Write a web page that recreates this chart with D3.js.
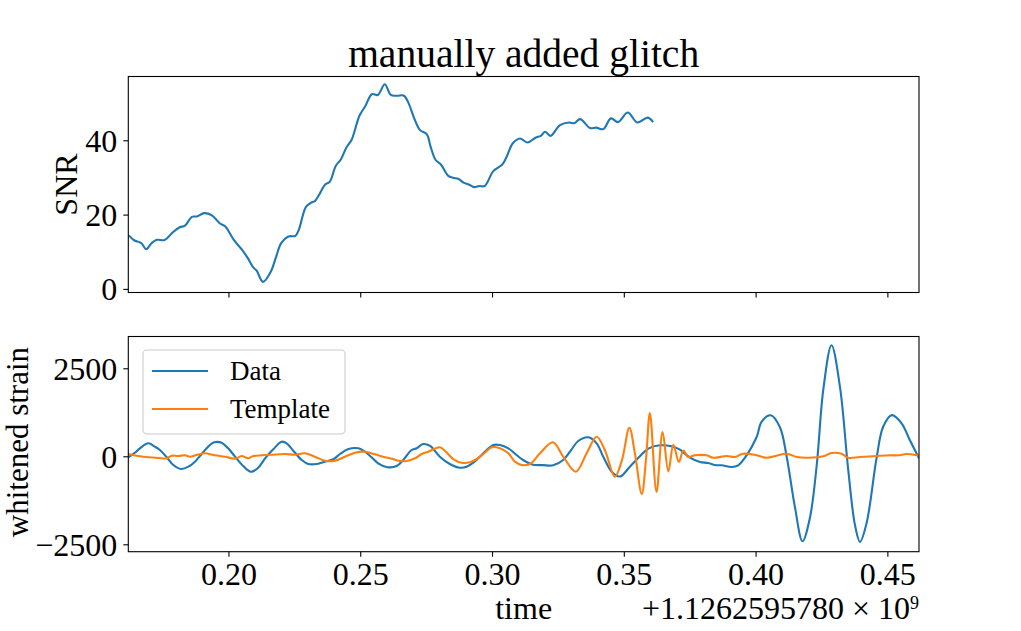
<!DOCTYPE html>
<html>
<head>
<meta charset="utf-8">
<script src="https://cdn.jsdelivr.net/npm/d3@7"></script>
<style>
  html, body { margin: 0; padding: 0; background: #fff; }
  svg { display: block; }
  text { font-family: "Liberation Serif", "DejaVu Serif", serif; fill: #000; }
</style>
</head>
<body>
<svg id="chart" width="1021" height="631"></svg>
<script>
// ---------- data ----------
const title = "manually added glitch";
const timeOffsetLabel = "+1.1262595780 \u00d7 10";
const timeOffsetExp = "9";
const xTicks = [0.20, 0.25, 0.30, 0.35, 0.40, 0.45];
const snrTicks = [0, 20, 40];
const strainTicks = [-2500, 0, 2500];
const seriesNames = ["Data", "Template"];

const snrTime = [0.1622,0.1642,0.1662,0.1671,0.1688,0.1708,0.1728,0.1755,0.1768,0.1788,0.1815,0.1835,0.1861,0.1881,0.1908,0.1937,0.1968,0.1988,0.2021,0.2054,0.2074,0.2094,0.2107,0.2131,0.2161,0.2181,0.2200,0.2227,0.2254,0.2267,0.2294,0.2314,0.2327,0.2347,0.2367,0.2384,0.2407,0.2427,0.2447,0.2467,0.2477,0.2497,0.2520,0.2544,0.2567,0.2593,0.2616,0.2640,0.2666,0.2682,0.2706,0.2726,0.2753,0.2766,0.2786,0.2806,0.2833,0.2853,0.2873,0.2892,0.2912,0.2933,0.2952,0.2972,0.3005,0.3039,0.3052,0.3079,0.3106,0.3135,0.3165,0.3185,0.3201,0.3222,0.3258,0.3292,0.3312,0.3334,0.3372,0.3395,0.3422,0.3451,0.3478,0.3515,0.3551,0.3591,0.3611];
const snrValue = [14.4,13.1,12.6,12.2,10.7,12.3,13.2,13.1,13.7,15.2,16.6,17.0,19.4,19.5,20.4,19.8,17.6,16.8,13.1,10.3,8.2,5.8,4.9,1.9,4.7,8.7,12.3,14.1,14.3,15.9,22.1,23.2,23.6,25.7,28.1,28.8,33.1,34.9,38.0,40.1,42.1,46.6,49.3,52.4,52.2,55.1,52.2,52.0,52.0,50.2,45.7,42.8,41.6,38.5,34.7,33.5,30.5,29.9,29.6,28.6,28.1,27.4,27.7,27.7,31.7,33.5,35.0,39.2,40.5,39.4,40.7,41.2,42.3,41.2,44.1,44.8,44.6,45.7,43.3,43.4,43.0,45.9,44.9,47.5,44.8,46.1,44.9];

const dataTime = [0.1620,0.1645,0.1664,0.1696,0.1721,0.1740,0.1766,0.1791,0.1820,0.1848,0.1873,0.1898,0.1923,0.1946,0.1974,0.1999,0.2025,0.2056,0.2085,0.2111,0.2139,0.2170,0.2202,0.2221,0.2246,0.2278,0.2303,0.2335,0.2366,0.2398,0.2423,0.2455,0.2493,0.2518,0.2543,0.2568,0.2603,0.2638,0.2663,0.2695,0.2714,0.2739,0.2765,0.2802,0.2840,0.2878,0.2904,0.2929,0.2967,0.3005,0.3030,0.3062,0.3093,0.3118,0.3156,0.3194,0.3232,0.3270,0.3302,0.3327,0.3365,0.3397,0.3422,0.3454,0.3485,0.3523,0.3561,0.3593,0.3637,0.3681,0.3713,0.3751,0.3789,0.3820,0.3846,0.3871,0.3909,0.3934,0.3966,0.4004,0.4023,0.4057,0.4092,0.4118,0.4149,0.4178,0.4206,0.4232,0.4257,0.4288,0.4320,0.4351,0.4377,0.4396,0.4421,0.4459,0.4484,0.4517,0.4554,0.4585,0.4620];
const dataValue = [-28,100,227,369,273,179,-28,-247,-361,-295,-153,65,273,398,386,227,-11,-276,-437,-341,-57,199,415,369,159,-105,-219,-219,-153,-85,65,207,227,131,-28,-199,-310,-276,-105,179,227,349,293,-11,-219,-324,-295,-182,85,321,321,227,37,-105,-239,-250,-256,-105,199,435,540,369,-11,-437,-575,-295,0,220,312,284,188,-40,-162,-190,-247,-256,-304,-256,28,548,983,1165,832,-11,-1432,-2415,-1750,-250,1900,3155,1980,-350,-1950,-2430,-1900,-50,840,1170,938,463,-57];

const templateTime = [0.1620,0.1658,0.1696,0.1734,0.1766,0.1785,0.1810,0.1835,0.1854,0.1879,0.1910,0.1949,0.1987,0.2025,0.2050,0.2075,0.2094,0.2126,0.2164,0.2214,0.2252,0.2290,0.2328,0.2366,0.2404,0.2442,0.2480,0.2518,0.2556,0.2594,0.2620,0.2644,0.2676,0.2708,0.2733,0.2758,0.2802,0.2821,0.2853,0.2885,0.2916,0.2942,0.2973,0.2999,0.3030,0.3062,0.3087,0.3114,0.3144,0.3182,0.3231,0.3270,0.3318,0.3359,0.3397,0.3428,0.3466,0.3493,0.3521,0.3542,0.3568,0.3584,0.3599,0.3624,0.3647,0.3669,0.3688,0.3709,0.3726,0.3744,0.3770,0.3814,0.3839,0.3890,0.3922,0.3953,0.4004,0.4042,0.4080,0.4118,0.4156,0.4200,0.4257,0.4288,0.4326,0.4351,0.4396,0.4459,0.4510,0.4541,0.4573,0.4611,0.4620];
const templateValue = [65,9,-28,-48,-57,17,9,28,-11,37,85,28,-11,-68,9,-57,9,28,45,65,45,85,-11,-125,-125,-11,102,131,57,-28,-70,-125,-134,-57,65,131,256,159,-77,-182,-170,-77,102,256,227,85,-153,-250,-220,85,398,-11,-437,85,557,179,-580,-105,813,85,-1071,-105,1230,-1014,690,-430,325,-160,165,-20,28,28,-40,9,-20,74,28,-40,17,74,-20,-40,0,94,74,-40,-20,9,28,28,65,28,9];

// ---------- layout ----------
const C_BLUE = "#1f77b4", C_ORANGE = "#ff7f0e";
const left = 128.3, right = 919;
const top1 = 76.5, bot1 = 292.5;
const top2 = 336.5, bot2 = 551.7;
const FS = 32;

const svg = d3.select("#chart");

const x = d3.scaleLinear().domain([0.162, 0.462]).range([left, right]);
const ySnr = d3.scaleLinear().domain([-0.97, 57.17]).range([bot1, top1]);
const yStr = d3.scaleLinear().domain([-2710, 3403]).range([bot2, top2]);

const curve = d3.curveCatmullRom.alpha(0.5);

function clipFor(id, y0, y1) {
  svg.append("clipPath").attr("id", id).append("rect")
    .attr("x", left).attr("y", y0).attr("width", right - left).attr("height", y1 - y0);
}
clipFor("c1", top1, bot1);
clipFor("c2", top2, bot2);

// ---------- top panel ----------
const snrLine = d3.line().x(d => x(d[0])).y(d => ySnr(d[1])).curve(curve);
svg.append("path")
  .datum(d3.zip(snrTime, snrValue))
  .attr("clip-path", "url(#c1)")
  .attr("fill", "none").attr("stroke", C_BLUE).attr("stroke-width", 2.1)
  .attr("stroke-linejoin", "round")
  .attr("d", snrLine);

const ax1x = svg.append("g").attr("transform", `translate(0,${bot1})`)
  .call(d3.axisBottom(x).tickValues(xTicks).tickSize(5).tickFormat(""));
const ax1y = svg.append("g").attr("transform", `translate(${left},0)`)
  .call(d3.axisLeft(ySnr).tickValues(snrTicks).tickSize(5).tickPadding(6).tickFormat(d3.format("d")));

svg.append("rect").attr("x", left).attr("y", top1).attr("width", right - left).attr("height", bot1 - top1)
  .attr("fill", "none").attr("stroke", "#000").attr("stroke-width", 1.1);

// ---------- bottom panel ----------
const strainLine = d3.line().x(d => x(d[0])).y(d => yStr(d[1])).curve(curve);
svg.append("path")
  .datum(d3.zip(dataTime, dataValue))
  .attr("clip-path", "url(#c2)")
  .attr("fill", "none").attr("stroke", C_BLUE).attr("stroke-width", 2.1)
  .attr("stroke-linejoin", "round")
  .attr("d", strainLine);
svg.append("path")
  .datum(d3.zip(templateTime, templateValue))
  .attr("clip-path", "url(#c2)")
  .attr("fill", "none").attr("stroke", C_ORANGE).attr("stroke-width", 2.1)
  .attr("stroke-linejoin", "round")
  .attr("d", strainLine);

const ax2x = svg.append("g").attr("transform", `translate(0,${bot2})`)
  .call(d3.axisBottom(x).tickValues(xTicks).tickSize(5).tickPadding(4).tickFormat(d3.format(".2f")));
const ax2y = svg.append("g").attr("transform", `translate(${left},0)`)
  .call(d3.axisLeft(yStr).tickValues(strainTicks).tickSize(5).tickPadding(6)
    .tickFormat(d => (d < 0 ? "\u2212" : "") + Math.abs(d)));

svg.append("rect").attr("x", left).attr("y", top2).attr("width", right - left).attr("height", bot2 - top2)
  .attr("fill", "none").attr("stroke", "#000").attr("stroke-width", 1.1);

// axis styling
[ax1x, ax1y, ax2x, ax2y].forEach(g => {
  g.select(".domain").remove();
  g.selectAll(".tick line").attr("stroke", "#000").attr("stroke-width", 1.1);
  g.selectAll(".tick text").style("font-family", '"Liberation Serif", serif').style("font-size", FS + "px").attr("fill", "#000");
});
ax2x.selectAll(".tick text").attr("dy", "0.76em");
ax1y.selectAll(".tick text").attr("dy", "0.34em");
ax2y.selectAll(".tick text").attr("dy", "0.34em");

// ---------- legend ----------
const lg = svg.append("g");
lg.append("rect").attr("x", 143).attr("y", 350).attr("width", 202).attr("height", 84)
  .attr("rx", 4).attr("fill", "#fff").attr("fill-opacity", 0.8)
  .attr("stroke", "#cccccc").attr("stroke-width", 1.1);
const legendColors = [C_BLUE, C_ORANGE];
seriesNames.forEach((name, i) => {
  const yy = 371 + i * 38;
  lg.append("line").attr("x1", 152).attr("x2", 208).attr("y1", yy).attr("y2", yy)
    .attr("stroke", legendColors[i]).attr("stroke-width", 2.1);
  lg.append("text").attr("x", 230).attr("y", yy + 9).style("font-size", "27px").text(name);
});

// ---------- labels ----------
svg.append("text").attr("x", (left + right) / 2).attr("y", 67).attr("text-anchor", "middle")
  .style("font-size", "39.5px").text(title);

svg.append("text").attr("transform", `translate(77,${(top1 + bot1) / 2}) rotate(-90)`)
  .attr("text-anchor", "middle").style("font-size", FS + "px").text("SNR");
svg.append("text").attr("transform", `translate(28,${(top2 + bot2) / 2 - 2}) rotate(-90)`)
  .attr("text-anchor", "middle").style("font-size", "31px").text("whitened strain");

svg.append("text").attr("x", (left + right) / 2).attr("y", 619).attr("text-anchor", "middle")
  .style("font-size", FS + "px").text("time");

const off = svg.append("text").attr("x", right).attr("y", 619).attr("text-anchor", "end")
  .style("font-size", FS + "px");
off.append("tspan").text(timeOffsetLabel);
off.append("tspan").attr("dy", -10).style("font-size", "18px").text(timeOffsetExp);
</script>
</body>
</html>
